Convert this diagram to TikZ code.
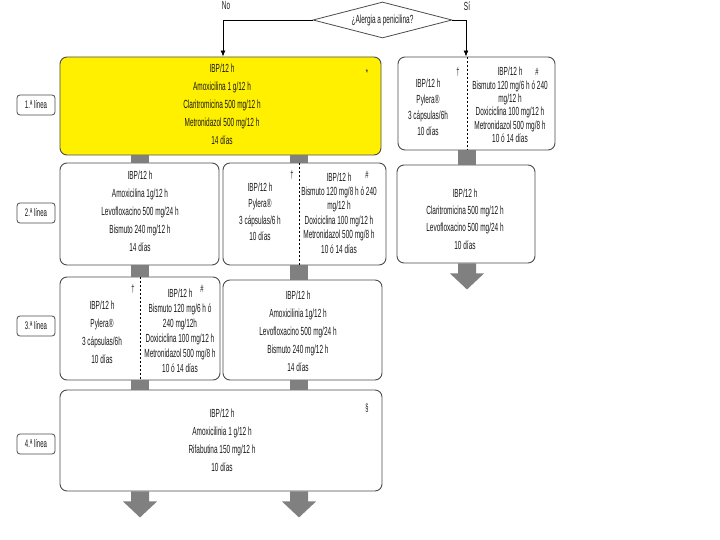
\documentclass[tikz,border=0pt]{standalone}
\usepackage{fontspec}
\setmainfont{Liberation Sans}[FakeStretch=0.55]
\usetikzlibrary{shapes.geometric,arrows.meta}
\definecolor{hpyellow}{RGB}{255,240,0}
\begin{document}
\begin{tikzpicture}[x=1bp,y=-1bp,
  box/.style={draw=black!70, line width=0.9bp, rounded corners=7bp, inner sep=0pt, fill=white},
  txt/.style={align=center, inner sep=0pt, text=black!90, font=\fontsize{11.8}{18}\selectfont},
  stx/.style={align=center, inner sep=0pt, text=black!90, font=\fontsize{11.8}{#1}\selectfont},
  sym/.style={inner sep=0pt, text=black!90, font=\fontsize{10.5}{12}\selectfont},
  lab/.style={draw=black!70, line width=0.8bp, rounded corners=3bp, minimum width=38bp, minimum height=20bp, inner sep=0pt, text=black!90, font=\fontsize{11}{12}\selectfont},
  stub/.style={draw=black!50, line width=18bp},
  conn/.style={draw=black, line width=0.8bp, -{Latex[length=6bp,width=5bp]}},
  divline/.style={draw=black, line width=0.7bp, dash pattern=on 2.5bp off 1.5bp},
  bigarr/.pic={\fill[black!50] (-9,0) -- (-9,10) -- (-17,10) -- (0,26) -- (17,10) -- (9,10) -- (9,0) -- cycle;}
]
\useasboundingbox (0,0) rectangle (720,540);
\fill[white] (0,0) rectangle (720,540);

% helper x positions
\coordinate (cNo) at (223,0);
\coordinate (cSi) at (466,0);
\coordinate (c140) at (140,0);
\coordinate (c299) at (299,0);
\coordinate (c467) at (467,0);

% decision
\node[diamond, draw=black!70, line width=0.8bp, minimum width=139bp, minimum height=36bp, aspect=3.86, inner sep=0pt, text=black!90, font=\fontsize{11.8}{12}\selectfont] (dia) at (382.5,20) {¿Alergia a penicilina?};
\node[sym, font=\fontsize{11.8}{12}\selectfont] (no) at (226,6) {No};
\node[sym, font=\fontsize{11.8}{12}\selectfont] (si) at (467,6) {Sí};

% boxes
\node[box, fill=hpyellow, minimum width=321bp, minimum height=98bp] (Y) at (220.5,106) {};
\node[box, minimum width=157bp, minimum height=93bp] (R1) at (476.5,103.5) {};
\node[box, minimum width=159bp, minimum height=102bp] (L2) at (139.5,214) {};
\node[box, minimum width=163bp, minimum height=102bp] (M2) at (304.5,214) {};
\node[box, minimum width=138bp, minimum height=98bp] (R2) at (466,214) {};
\node[box, minimum width=160bp, minimum height=103bp] (L3) at (140,328.5) {};
\node[box, minimum width=159bp, minimum height=100bp] (M3) at (302.5,330) {};
\node[box, minimum width=322bp, minimum height=101bp] (L4) at (221,440.5) {};

% line labels
\node[lab] (lab1) at (36,105) {1.ª línea};
\node[lab] (lab2) at (36,213) {2.ª línea};
\node[lab] (lab3) at (36,326) {3.ª línea};
\node[lab] (lab4) at (36,444) {4.ª línea};

% connectors from decision
\draw[conn] (dia.west) -| (Y.north -| cNo);
\draw[conn] (dia.east) -| (R1.north -| cSi);

% stubs
\draw[stub] (Y.south -| c140) -- (L2.north -| c140);
\draw[stub] (Y.south -| c299) -- (M2.north -| c299);
\draw[stub] (R1.south -| c467) -- (R2.north -| c467);
\draw[stub] (L2.south -| c140) -- (L3.north -| c140);
\draw[stub] (M2.south -| c299) -- (M3.north -| c299);
\draw[stub] (L3.south -| c140) -- (L4.north -| c140);
\draw[stub] (M3.south -| c299) -- (L4.north -| c299);

% dividers
\draw[divline] (R1.north -| c467) -- (R1.south -| c467);
\draw[divline] (M2.north -| c299) -- (M2.south -| c299);
\draw[divline] (L3.north -| c140) -- (L3.south -| c140);

% texts
\node[txt] (tY) at (222,104) {IBP/12 h\\Amoxicilina 1 g/12 h\\Claritromicina 500 mg/12 h\\Metronidazol 500 mg/12 h\\14 días};
\node[sym] (sY) at (367,73) {*};

\node[stx=16] (tR1a) at (428,107) {IBP/12 h\\Pylera®\\3 cápsulas/6h\\10 días};
\node[stx=13.5] (tR1b) at (510,105) {IBP/12 h\\Bismuto 120 mg/6 h ó 240\\mg/12 h\\Doxiciclina 100 mg/12 h\\Metronidazol 500 mg/8 h\\10 ó 14 días};
\node[sym] (dR1) at (458,72) {†};
\node[sym] (hR1) at (537,72) {\#};

\node[txt] (tL2) at (140,211) {IBP/12 h\\Amoxicilina 1g/12 h\\Levofloxacino 500 mg/24 h\\Bismuto 240 mg/12 h\\14 días};

\node[stx=16.5] (tM2a) at (260,212) {IBP/12 h\\Pylera®\\3 cápsulas/6 h\\10 días};
\node[stx=14.5] (tM2b) at (339,213) {IBP/12 h\\Bismuto 120 mg/8 h ó 240\\mg/12 h\\Doxiciclina 100 mg/12 h\\Metronidazol 500 mg/8 h\\10 ó 14 días};
\node[sym] (dM2) at (292,175) {†};
\node[sym] (hM2) at (367,175) {\#};

\node[stx=17.5] (tR2) at (465,219) {IBP/12 h\\Claritromicina 500 mg/12 h\\Levofloxacino 500 mg/24 h\\10 días};

\node[stx=18] (tL3a) at (102,332) {IBP/12 h\\Pylera®\\3 cápsulas/6h\\10 días};
\node[stx=15] (tL3b) at (180,330.5) {IBP/12 h\\Bismuto 120 mg/6 h ó\\240 mg/12h\\Doxiciclina 100 mg/12 h\\Metronidazol 500 mg/8 h\\10 ó 14 días};
\node[sym] (dL3) at (133,289) {†};
\node[sym] (hL3) at (202,289) {\#};

\node[txt] (tM3) at (298,331.5) {IBP/12 h\\Amoxicilinia 1g/12 h\\Levofloxacino 500 mg/24 h\\Bismuto 240 mg/12 h\\14 días};

\node[txt] (tL4) at (222,440.5) {IBP/12 h\\Amoxicilinia 1 g/12 h\\Rifabutina 150 mg/12 h\\10 días};
\node[sym] (sL4) at (367,408) {§};

% big arrows
\pic at (L4.south -| c140) {bigarr};
\pic at (L4.south -| c299) {bigarr};
\pic at (R2.south -| c467) {bigarr};
\end{tikzpicture}
\end{document}
